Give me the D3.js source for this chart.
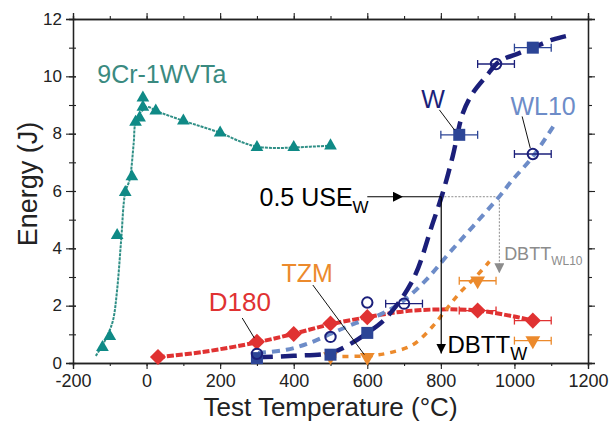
<!DOCTYPE html>
<html>
<head>
<meta charset="utf-8">
<script src="https://cdn.jsdelivr.net/npm/d3@7"></script>
<style>
  body { margin: 0; background: #fff; }
  text { font-family: "Liberation Sans", Arial, sans-serif; }
</style>
</head>
<body>
<script>
(() => {
    // tick labels
    var xTicks = [-200, 0, 200, 400, 600, 800, 1000, 1200];
    var yTicks = [0, 2, 4, 6, 8, 10, 12];

    // 9Cr-1WVTa (triangles) and its fit
    var cr9T = [-120, -100, -80, -58, -40, -30, -19, -10, -10, 25, 100, 200, 300, 400, 500];
    var cr9E = [0.55, 0.93, 4.45, 5.95, 6.5, 8.4, 8.55, 8.93, 9.25, 8.8, 8.45, 8.03, 7.52, 7.52, 7.58];
    var cr9FitT = [-138, -120, -105, -91, -80, -69, -58, -46, -35, -30, -14, 4, 25, 100, 200, 260, 300, 350, 400, 500];
    var cr9FitE = [0.25, 0.62, 1.0, 1.5, 2.56, 4.3, 5.95, 6.4, 7.67, 8.39, 8.78, 8.93, 8.8, 8.45, 8.03, 7.7, 7.55, 7.5, 7.52, 7.58];

    // W (filled squares)
    var wT = [300, 500, 600, 850, 1050];
    var wE = [0.17, 0.29, 1.05, 7.96, 11.0];
    var wErr = [0, 0, 0, 50, 50];
    var wFitT = [300, 400, 500, 542, 600, 651, 724, 778, 805, 832, 860, 887, 923, 959, 1013, 1050, 1104, 1145];
    var wFitE = [0.2, 0.25, 0.35, 0.58, 1.05, 1.57, 2.9, 4.88, 5.93, 7.2, 8.72, 9.42, 10.0, 10.52, 10.81, 11.0, 11.28, 11.42];

    // WL10 (open circles)
    var wlT = [300, 500, 600, 700, 950, 1050];
    var wlE = [0.32, 0.91, 2.11, 2.07, 10.43, 7.29];
    var wlErr = [0, 0, 0, 50, 50, 50];
    var wlFitT = [303, 380, 443, 506, 570, 633, 696, 760, 823, 887, 959, 995, 1050, 1108];
    var wlFitE = [0.35, 0.46, 0.7, 1.05, 1.4, 1.68, 2.15, 2.9, 3.84, 4.76, 5.81, 6.39, 7.2, 8.3];

    // TZM (inverted triangles)
    var tzmT = [500, 600, 900, 1050];
    var tzmE = [0.23, 0.2, 2.87, 0.78];
    var tzmErr = [0, 0, 50, 50];
    var tzmFitT = [500, 600, 658, 724, 778, 814, 851, 896, 932];
    var tzmFitE = [0.23, 0.25, 0.35, 0.64, 1.28, 1.86, 2.44, 3.02, 3.54];

    // D180 (diamonds)
    var d180T = [31, 300, 400, 500, 600, 900, 1050];
    var d180E = [0.21, 0.74, 1.01, 1.38, 1.6, 1.83, 1.48];
    var d180Err = [0, 0, 0, 0, 0, 50, 50];
    var d180FitT = [31, 150, 300, 400, 500, 600, 700, 800, 900, 1000, 1050];
    var d180FitE = [0.2, 0.38, 0.72, 1.02, 1.35, 1.6, 1.8, 1.87, 1.83, 1.62, 1.48];

    var W = 612, H = 422;
    var margin = { top: 19, left: 73, right: 24, bottom: 59 };
    var w = W - margin.left - margin.right,
        h = H - margin.top - margin.bottom;

    var teal = "#2f8f86", navy = "#1b1f7a", sq = "#2c4596", light = "#6d8cc8",
        orange = "#ec8a2c", red = "#e03232";

    var svg = d3.select("body").append("svg").attr("width", W).attr("height", H);
    var defs = svg.append("defs");
    [["arrBlack", "#000"], ["arrGray", "#8c8c8c"]].forEach((m) => {
        defs.append("marker").attr("id", m[0]).attr("viewBox", "0 0 10 10")
            .attr("refX", 10).attr("refY", 5).attr("markerWidth", 10).attr("markerHeight", 10)
            .attr("markerUnits", "userSpaceOnUse").attr("orient", "auto")
            .append("path").attr("d", "M0,0L10,5L0,10Z").attr("fill", m[1]);
    });

    var g = svg.append("g").attr("transform", "translate(" + [margin.left, margin.top] + ")");

    var x = d3.scaleLinear().domain([-200, 1200]).range([0, w]);
    var y = d3.scaleLinear().domain([0, 12]).range([h, 0]);

    function zip(a, b) { return a.map((d, i) => [d, b[i]]); }

    // axes: minor ticks every 100 / 1, major every 200 / 2
    var minorX = d3.range(-200, 1201, 100), minorY = d3.range(0, 13, 1);
    var plain = (d) => String(d);
    var bottom = g.append("g").attr("transform", "translate(0," + h + ")");
    bottom.call(d3.axisBottom(x).tickValues(minorX).tickSize(3).tickFormat(""));
    bottom.append("g").call(d3.axisBottom(x).tickValues(xTicks).tickSize(6).tickFormat(plain));
    var left = g.append("g");
    left.call(d3.axisLeft(y).tickValues(minorY).tickSize(4).tickFormat(""));
    left.append("g").call(d3.axisLeft(y).tickValues(yTicks).tickSize(7).tickFormat(plain));
    var top = g.append("g");
    top.call(d3.axisTop(x).tickValues(minorX).tickSize(3).tickFormat(""));
    top.append("g").call(d3.axisTop(x).tickValues(xTicks).tickSize(6).tickFormat(""));
    var right = g.append("g").attr("transform", "translate(" + w + ",0)");
    right.call(d3.axisRight(y).tickValues(minorY).tickSize(4).tickFormat(""));
    right.append("g").call(d3.axisRight(y).tickValues(yTicks).tickSize(7).tickFormat(""));

    g.selectAll(".domain").attr("stroke", "#222").attr("stroke-width", 1.3);
    g.selectAll(".tick line").attr("stroke", "#222").attr("stroke-width", 1.1);
    bottom.selectAll("text").attr("font-size", 18).attr("fill", "#222").attr("dy", "0.84em");
    left.selectAll("text").attr("font-size", 17).attr("fill", "#222").attr("dx", "-1px").attr("dy", "0.3em");
    // left ticks cross the axis
    left.selectAll(".tick line").attr("x2", function () { return +d3.select(this).attr("x2") < -5 ? -7 : -4; }).attr("x1", 3);

    svg.append("text").attr("x", margin.left + w / 2 + 0).attr("y", 416)
        .attr("text-anchor", "middle").attr("font-size", 26).attr("fill", "#222")
        .text("Test Temperature (°C)");
    svg.append("text").attr("transform", "translate(37," + (margin.top + h / 2 - 7) + ") rotate(-90)")
        .attr("text-anchor", "middle").attr("font-size", 27).attr("fill", "#222")
        .text("Energy (J)");

    var line = d3.line().x((d) => x(d[0])).y((d) => y(d[1])).curve(d3.curveCatmullRom.alpha(0.5));

    // annotation guide lines (behind curves)
    g.append("line").attr("x1", x(800)).attr("x2", x(959)).attr("y1", y(5.8)).attr("y2", y(5.8))
        .attr("stroke", "#8c8c8c").attr("stroke-width", 1).attr("stroke-dasharray", "2,1.5");
    g.append("line").attr("x1", x(959)).attr("x2", x(959)).attr("y1", y(5.8)).attr("y2", y(3.13))
        .attr("stroke", "#8c8c8c").attr("stroke-width", 1).attr("stroke-dasharray", "2,1.5")
        .attr("marker-end", "url(#arrGray)");

    // fit curves
    g.append("path").attr("d", line(zip(cr9FitT, cr9FitE))).attr("fill", "none")
        .attr("stroke", teal).attr("stroke-width", 2).attr("stroke-dasharray", "3,1");
    g.append("path").attr("d", line(zip(d180FitT, d180FitE))).attr("fill", "none")
        .attr("stroke", red).attr("stroke-width", 4).attr("stroke-dasharray", "7,2");
    g.append("path").attr("d", line(zip(tzmFitT, tzmFitE))).attr("fill", "none")
        .attr("stroke", orange).attr("stroke-width", 3.5).attr("stroke-dasharray", "6,6");
    g.append("path").attr("d", line(zip(wlFitT, wlFitE))).attr("fill", "none")
        .attr("stroke", light).attr("stroke-width", 4).attr("stroke-dasharray", "8,6");
    g.append("path").attr("d", line(zip(wFitT, wFitE))).attr("fill", "none")
        .attr("stroke", navy).attr("stroke-width", 4.5).attr("stroke-dasharray", "16,8");

    // error bars
    function errBars(ts, es, errs, col) {
        var data = zip(ts, es).map((d, i) => [d[0], d[1], errs[i]]).filter((d) => d[2] > 0);
        var eg = g.append("g").attr("stroke", col).attr("stroke-width", 1.3);
        data.forEach((d) => {
            eg.append("line").attr("x1", x(d[0] - d[2])).attr("x2", x(d[0] + d[2]))
                .attr("y1", y(d[1])).attr("y2", y(d[1]));
            [-1, 1].forEach((s) => {
                eg.append("line").attr("x1", x(d[0] + s * d[2])).attr("x2", x(d[0] + s * d[2]))
                    .attr("y1", y(d[1]) - 4).attr("y2", y(d[1]) + 4);
            });
        });
    }
    errBars(d180T, d180E, d180Err, red);
    errBars(tzmT, tzmE, tzmErr, orange);
    errBars(wT, wE, wErr, sq);
    errBars(wlT, wlE, wlErr, navy);

    // markers
    g.selectAll(".cr9").data(zip(cr9T, cr9E)).enter().append("path")
        .attr("transform", (d) => "translate(" + [x(d[0]), y(d[1])] + ")")
        .attr("d", d3.symbol(d3.symbolTriangle, 70)()).attr("fill", "#0f8a86");
    g.selectAll(".d180").data(zip(d180T, d180E)).enter().append("path")
        .attr("transform", (d) => "translate(" + [x(d[0]), y(d[1])] + ") rotate(45)")
        .attr("d", d3.symbol(d3.symbolSquare, 130)()).attr("fill", red);
    g.selectAll(".tzm").data(zip(tzmT, tzmE)).enter().append("path")
        .attr("transform", (d) => "translate(" + [x(d[0]), y(d[1])] + ") rotate(180)")
        .attr("d", d3.symbol(d3.symbolTriangle, 95)()).attr("fill", orange);
    g.selectAll(".w").data(zip(wT, wE)).enter().append("rect")
        .attr("x", (d) => x(d[0]) - 6).attr("y", (d) => y(d[1]) - 6)
        .attr("width", 12).attr("height", 12).attr("fill", sq);
    g.selectAll(".wl").data(zip(wlT, wlE)).enter().append("circle")
        .attr("cx", (d) => x(d[0])).attr("cy", (d) => y(d[1])).attr("r", 5.2)
        .attr("fill", "none").attr("stroke", navy).attr("stroke-width", 2);

    // leader lines
    var leaders = [[260, 1.57, 293, 0.87], [452, 2.72, 592, 0.29], [796, 8.83, 837, 8.13], [1021, 8.6, 1043, 7.5]];
    leaders.forEach((l) => {
        g.append("line").attr("x1", x(l[0])).attr("y1", y(l[1])).attr("x2", x(l[2])).attr("y2", y(l[3]))
            .attr("stroke", "#111").attr("stroke-width", 1);
    });

    // 0.5 USE arrows
    g.append("line").attr("x1", x(600)).attr("x2", x(697)).attr("y1", y(5.8)).attr("y2", y(5.8))
        .attr("stroke", "#000").attr("stroke-width", 1.2).attr("marker-end", "url(#arrBlack)");
    g.append("line").attr("x1", x(697)).attr("x2", x(801)).attr("y1", y(5.8)).attr("y2", y(5.8))
        .attr("stroke", "#000").attr("stroke-width", 1.2);
    g.append("line").attr("x1", x(801)).attr("x2", x(801)).attr("y1", y(5.8)).attr("y2", y(0.33))
        .attr("stroke", "#000").attr("stroke-width", 1.2).attr("marker-end", "url(#arrBlack)");

    // labels
    function label(t, e, txt, col, size) {
        return g.append("text").attr("x", x(t)).attr("y", y(e)).attr("fill", col)
            .attr("font-size", size).text(txt);
    }
    label(-134, 9.77, "9Cr-1WVTa", "#3a8a80", 25);
    label(169, 1.82, "D180", red, 26);
    label(367, 2.84, "TZM", orange, 25);
    label(747, 8.9, "W", navy, 25);
    label(989, 8.66, "WL10", light, 25);

    var use = label(307, 5.46, "0.5 USE", "#000", 25);
    use.append("tspan").attr("font-size", 17).attr("dy", 7).text("W");
    var dw = label(818, 0.36, "DBTT", "#000", 24);
    dw.append("tspan").attr("font-size", 18).attr("dy", 7).text("W");
    var dwl = label(972, 3.6, "DBTT", "#8c8c8c", 18);
    dwl.append("tspan").attr("font-size", 12).attr("dy", 5).text("WL10");
})()
</script>
</body>
</html>
